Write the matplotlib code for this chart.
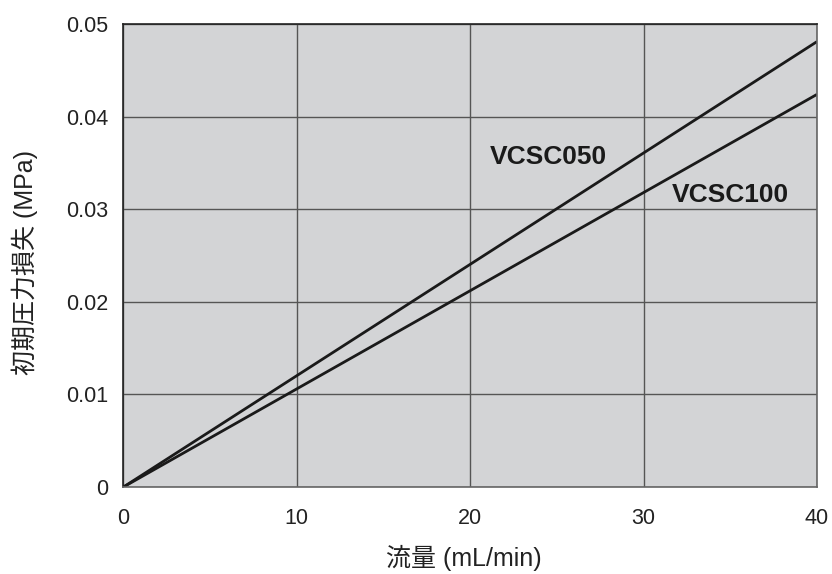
import matplotlib

matplotlib.use("Agg")
import matplotlib.pyplot as plt

# データ（流量 vs 初期圧力損失）
flow = [0, 40]
vcsc050 = [0, 0.0481]
vcsc100 = [0, 0.0424]
x_ticks = [0, 10, 20, 30, 40]
y_ticks = [0, 0.01, 0.02, 0.03, 0.04, 0.05]
y_tick_labels = ["0", "0.01", "0.02", "0.03", "0.04", "0.05"]


def main():
    fig = plt.figure(figsize=(8.32, 5.74), dpi=100)
    ax = fig.add_axes([0.1484, 0.1516, 0.8336, 0.8066])
    ax.set_facecolor("#d3d4d6")

    ax.plot(flow, vcsc050, color="#1a1a1a", linewidth=2.0, solid_capstyle="butt")
    ax.plot(flow, vcsc100, color="#1a1a1a", linewidth=2.0, solid_capstyle="butt")

    ax.set_xlim(0, 40)
    ax.set_ylim(0, 0.05)
    ax.set_xticks(x_ticks)
    ax.set_xticklabels([str(t) for t in x_ticks])
    ax.set_yticks(y_ticks)
    ax.set_yticklabels(y_tick_labels)
    ax.tick_params(length=0, labelsize=15.5, colors="#222222")
    ax.tick_params(axis="x", pad=15)
    ax.tick_params(axis="y", pad=11)
    for lab in ax.get_xticklabels() + ax.get_yticklabels():
        lab.set_family(["Liberation Sans", "DejaVu Sans"])

    ax.grid(True, color="#555555", linewidth=1.0)
    ax.set_axisbelow(True)
    for side in ["left", "top"]:
        ax.spines[side].set_color("#222222")
        ax.spines[side].set_linewidth(1.2)
    for side in ["right", "bottom"]:
        ax.spines[side].set_color("#666666")
        ax.spines[side].set_linewidth(1.2)

    lbl = ["Liberation Sans", "DejaVu Sans"]
    ax.text(21.1, 0.0356, "VCSC050", fontsize=19, fontweight="bold",
            family=lbl, color="#1a1a1a", va="center", ha="left")
    ax.text(31.6, 0.0315, "VCSC100", fontsize=19, fontweight="bold",
            family=lbl, color="#1a1a1a", va="center", ha="left")

    mix = ["Liberation Sans", "Noto Sans CJK JP"]
    fig.text(0.557, 0.028, "流量 (mL/min)", fontsize=18, family=mix,
             color="#222222", ha="center", va="center")
    fig.text(0.030, 0.542, "初期圧力損失 (MPa)", fontsize=18, family=mix,
             color="#222222", ha="center", va="center", rotation=90)

    fig.savefig("out.png", dpi=100)
    plt.close(fig)


if __name__ == "__main__":
    main()
